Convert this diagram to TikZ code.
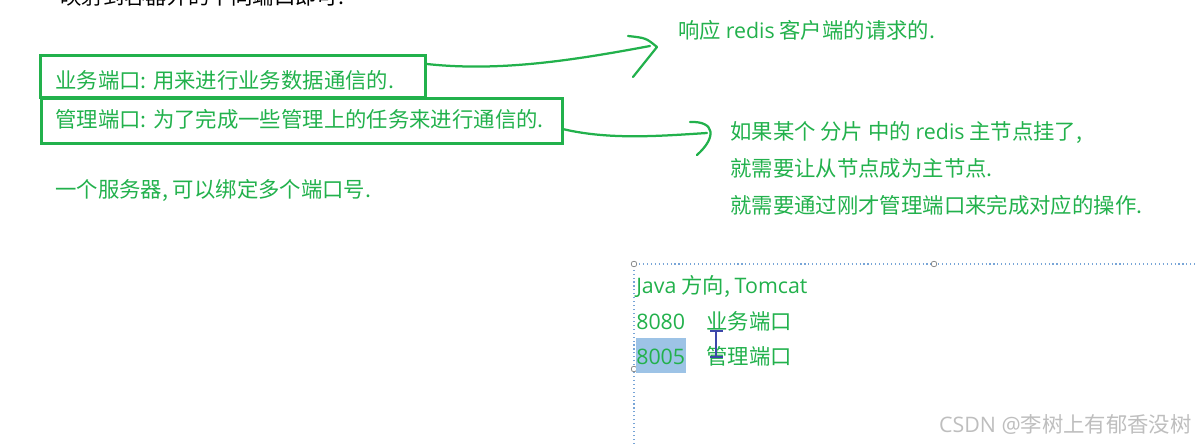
\documentclass[tikz,border=0pt]{standalone}
\usepackage{fontspec}
\setmainfont{Noto Sans CJK SC}
\newfontfamily\latin{Open Sans}
\usepackage{xcolor}
\usetikzlibrary{positioning}
\definecolor{notegreen}{RGB}{34,177,76}
\definecolor{selblue}{RGB}{120,165,215}
\definecolor{hilite}{RGB}{157,195,230}
\definecolor{cursorblue}{RGB}{60,70,170}
\definecolor{markgray}{RGB}{190,190,190}

\begin{document}
\begin{tikzpicture}[
  x=0.025cm, y=-0.025cm,
  note/.style={text=notegreen,font=\fontsize{15.2}{18}\selectfont,inner sep=0pt,anchor=west,text height=13pt,text depth=0.4pt},
  box/.style={draw=notegreen,line width=2pt,anchor=north west,inner sep=0pt},
  hand/.style={draw=notegreen,line width=1.6pt,line cap=round,line join=round},
  sel/.style={draw=selblue,dotted,line width=0.8pt},
  grip/.style={circle,draw=gray,fill=white,line width=0.5pt,minimum size=4pt,inner sep=0pt}
]
  \useasboundingbox (0,0) rectangle (1198,444);
  \clip (0,0) rectangle (1198,444);

  \node[note,text=black,anchor=base west] (cut) at (60,5) {映射到容器外的不同端口即可.};

  \node[box,minimum width=9.625cm,minimum height=1.05cm] (b1) at (39,54) {};
  \node[box,minimum width=13.025cm,minimum height=1.125cm] (b2) at (40,97) {};
  \node[note] (t1) at (55,80) {业务端口: 用来进行业务数据通信的.};
  \node[note] (t2) at (55,119) {管理端口: 为了完成一些管理上的任务来进行通信的.};
  \node[note] (t3) at (55,189) {一个服务器, 可以绑定多个端口号.};

  \node[note] (resp) at (678,30) {响应 {\latin redis} 客户端的请求的.};
  \node[note] (r1) at (730,131) {如果某个 分片 中的 {\latin redis} 主节点挂了,};
  \node[note,below=0.43cm of r1.south west,anchor=north west] (r2) {就需要让从节点成为主节点.};
  \node[note,below=0.43cm of r2.south west,anchor=north west] (r3) {就需要通过刚才管理端口来完成对应的操作.};

  \coordinate (tip1) at (650,46);
  \coordinate (tip2) at (707,133);
  \draw[hand] ([yshift=-0.25cm]b1.north east) .. controls (500,72) and (575,60) .. (tip1);
  \draw[hand] ([shift={(-22,-10)}]tip1) .. controls ([shift={(-4,-8)}]tip1) .. ([shift={(7,1)}]tip1) -- ([shift={(-17,31)}]tip1);
  \draw[hand] ([yshift=-0.21cm]b2.east) .. controls (610,140) and (660,136) .. (tip2);
  \draw[hand] ([shift={(-17,-11)}]tip2) .. controls ([shift={(8,-12)}]tip2) and ([shift={(10,4)}]tip2) .. ([shift={(-10,22)}]tip2);

  \coordinate (fr) at (634,264);
  \draw[sel] (634,444) -- (fr) -- (1198,264);
  \node[grip] (g1) at (fr) {};
  \node[grip] (g2) at (934,264) {};
  \node[grip] (g3) at (634,369) {};

  \fill[hilite] (636,338) rectangle (686,373);
  \node[note] (java) at (636,285) {{\latin Java} 方向, {\latin Tomcat}};
  \node[note] (p1) at (636,321) {\latin 8080};
  \node[note] (n1) at (706,321) {业务端口};
  \node[note] (p2) at (636,356) {\latin 8005};
  \node[note] (n2) at (706,356) {管理端口};
  \draw[cursorblue,line width=1.2pt] (710,331) -- (723,331) (716,331) -- (716,357) (710,357) -- (723,357);

  \node[note,text=markgray,anchor=east] (wm) at (1192,424) {{\latin CSDN @}李树上有郁香没树};
\end{tikzpicture}
\end{document}
